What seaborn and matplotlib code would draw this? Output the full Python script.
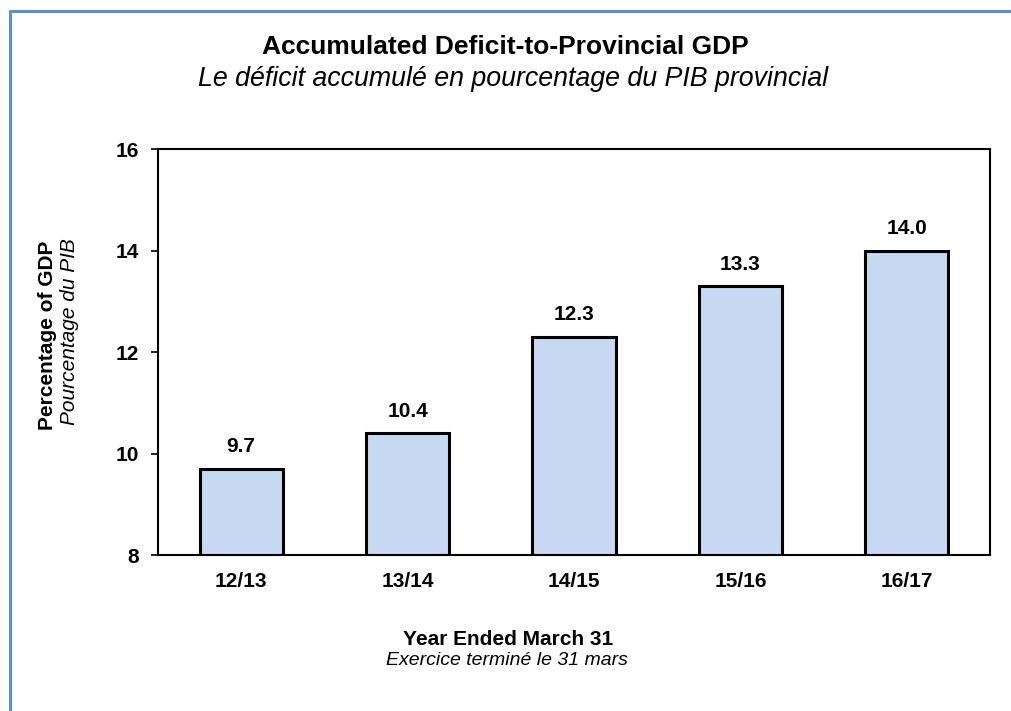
import matplotlib
matplotlib.use("Agg")
import matplotlib.pyplot as plt
from matplotlib.lines import Line2D
import seaborn as sns
import pandas as pd

# Accumulated deficit as a share of provincial GDP, by fiscal year
years = ["12/13", "13/14", "14/15", "15/16", "16/17"]
deficit_pct = [9.7, 10.4, 12.3, 13.3, 14.0]
y_ticks = [8, 10, 12, 14, 16]

df = pd.DataFrame({"year": years, "pct": deficit_pct})

sns.set_theme(style="white")
plt.rcParams["font.family"] = ["Liberation Sans", "DejaVu Sans"]
plt.rcParams["text.color"] = "black"
plt.rcParams["xtick.color"] = "black"
plt.rcParams["ytick.color"] = "black"

fig = plt.figure(figsize=(10.12, 7.11), dpi=100)
ax = fig.add_axes([0.1561, 0.2194, 0.8222, 0.5710])

sns.barplot(data=df, x="year", y="pct", ax=ax, color="#C6D9F0",
            saturation=1, width=0.5, edgecolor="black", linewidth=2.2)

ax.set_ylim(8, 16)
ax.set_yticks(y_ticks)
ax.set_yticklabels([str(t) for t in y_ticks], fontsize=15, fontweight="bold")
ax.set_xticks(range(len(years)))
ax.set_xticklabels(years, fontsize=15, fontweight="bold")
ax.tick_params(axis="y", which="major", direction="out", length=5,
               width=1.2, color="black", pad=9, left=True)
ax.tick_params(axis="x", length=0, pad=12)
ax.set_xlabel("")
ax.set_ylabel("")

for side in ["left", "right", "top", "bottom"]:
    ax.spines[side].set_visible(True)
    ax.spines[side].set_color("black")
    ax.spines[side].set_linewidth(1.5)

for i, v in enumerate(deficit_pct):
    ax.annotate(f"{v:.1f}", (i, v), xytext=(0, 9), textcoords="offset points",
                ha="center", va="bottom", fontsize=15, fontweight="bold")

# Titles
fig.text(0.4995, 0.934, "Accumulated Deficit-to-Provincial GDP", ha="center",
         va="center", fontsize=19, fontweight="bold")
fig.text(0.507, 0.889, "Le déficit accumulé en pourcentage du PIB provincial",
         ha="center", va="center", fontsize=19.3, style="italic")

# Axis titles
fig.text(0.047, 0.528, "Percentage of GDP", ha="center", va="center",
         rotation=90, fontsize=15, fontweight="bold")
fig.text(0.069, 0.534, "Pourcentage du PIB", ha="center", va="center",
         rotation=90, fontsize=15, style="italic")
fig.text(0.502, 0.100, "Year Ended March 31", ha="center", va="center",
         fontsize=15, fontweight="bold")
fig.text(0.501, 0.071, "Exercice terminé le 31 mars", ha="center", va="center",
         fontsize=14, style="italic")

# Frame around the chart area
frame_color = "#5B8ED6"
fig.add_artist(Line2D([0.0095, 0.0095], [0.0, 0.984], transform=fig.transFigure,
                      color=frame_color, linewidth=2.2))
fig.add_artist(Line2D([0.0095, 1.0], [0.984, 0.984], transform=fig.transFigure,
                      color=frame_color, linewidth=2.2))

fig.savefig("out.png", dpi=100)
